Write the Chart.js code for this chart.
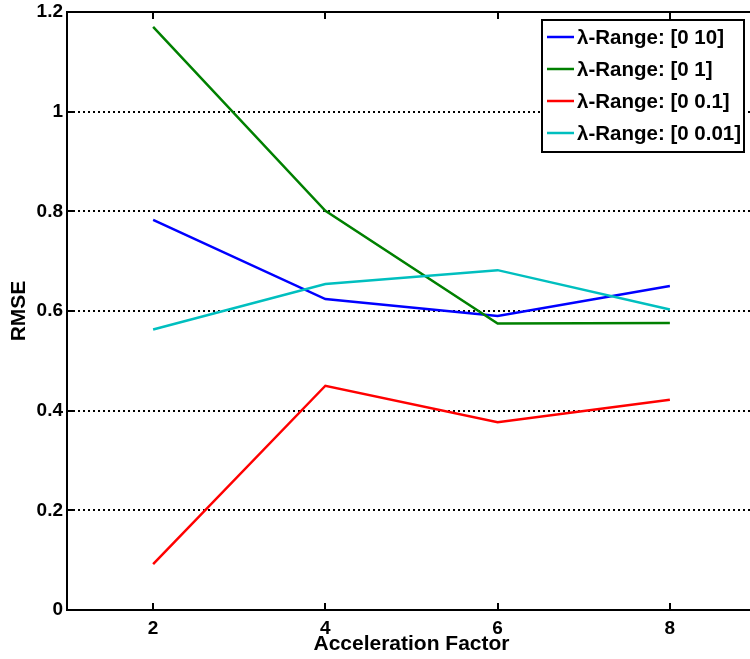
<!DOCTYPE html>
<html>
<head>
<meta charset="utf-8">
<script src="https://cdn.jsdelivr.net/npm/chart.js@4.4.1/dist/chart.umd.min.js"></script>
<style>
  html, body { margin:0; padding:0; background:#fff; overflow:hidden; }
  #wrap { width:760px; height:659px; }
</style>
</head>
<body>
<div id="wrap"><canvas id="rmseChart" width="760" height="659"></canvas></div>
<script>
// acceleration factors and RMSE per lambda range
const accelFactors = [2, 4, 6, 8];
const xTicks = [2, 4, 6, 8];
const rangeLabels = ['λ-Range: [0 10]', 'λ-Range: [0 1]', 'λ-Range: [0 0.1]', 'λ-Range: [0 0.01]'];
const rmseRange10 = [0.783, 0.624, 0.590, 0.650];
const rmseRange1 = [1.170, 0.801, 0.575, 0.576];
const rmseRange01 = [0.092, 0.450, 0.377, 0.422];
const rmseRange001 = [0.563, 0.654, 0.682, 0.603];
const lineColors = ['#0000ff', '#008000', '#ff0000', '#00bfbf'];

const FONT = '"Liberation Sans", Arial, Helvetica, sans-serif';
Chart.defaults.font.family = FONT;
Chart.defaults.font.weight = 'bold';
Chart.defaults.color = '#000';

const series = [rmseRange10, rmseRange1, rmseRange01, rmseRange001];
const datasets = series.map((vals, i) => ({
  label: rangeLabels[i],
  data: vals.map((v, j) => ({ x: accelFactors[j], y: v })),
  borderColor: lineColors[i],
  backgroundColor: lineColors[i],
  borderWidth: 2.5,
  pointRadius: 0,
  tension: 0,
  fill: false,
  order: series.length - i   // later series end up on top
}));

// box, mirrored ticks and the boxed legend
const matlabFrame = {
  id: 'matlabFrame',
  afterDraw(chart) {
    const ctx = chart.ctx;
    const a = chart.chartArea;
    const xs = chart.scales.x, ys = chart.scales.y;
    ctx.save();
    ctx.strokeStyle = '#000';
    ctx.lineWidth = 2;
    ctx.beginPath();
    ctx.moveTo(a.left - 1, a.top);
    ctx.lineTo(a.right + 1, a.top);
    ctx.stroke();
    const tl = 7;
    ctx.beginPath();
    xTicks.forEach(v => {
      const px = Math.round(xs.getPixelForValue(v));
      ctx.moveTo(px, a.bottom); ctx.lineTo(px, a.bottom - tl);
      ctx.moveTo(px, a.top); ctx.lineTo(px, a.top + tl);
    });
    ys.ticks.forEach(t => {
      const py = Math.round(ys.getPixelForValue(t.value));
      ctx.moveTo(a.left, py); ctx.lineTo(a.left + tl, py);
    });
    ctx.stroke();

    // legend
    const bx = 542, by = 20, bw = 202, bh = 132;
    ctx.fillStyle = '#fff';
    ctx.fillRect(bx, by, bw, bh);
    ctx.strokeRect(bx, by, bw, bh);
    ctx.font = 'bold 20.5px ' + FONT;
    ctx.textBaseline = 'middle';
    ctx.textAlign = 'left';
    chart.data.datasets.forEach((ds, i) => {
      const ry = 37 + i * 32;
      ctx.strokeStyle = ds.borderColor;
      ctx.lineWidth = 2.5;
      ctx.beginPath();
      ctx.moveTo(547, ry); ctx.lineTo(574, ry);
      ctx.stroke();
      ctx.fillStyle = '#000';
      ctx.fillText(ds.label, 577, ry + 1);
    });
    ctx.restore();
  }
};

new Chart(document.getElementById('rmseChart'), {
  type: 'line',
  data: { datasets },
  options: {
    responsive: false,
    animation: false,
    devicePixelRatio: 1,
    layout: { padding: { top: 12, right: 4, left: 0, bottom: 0 } },
    plugins: { legend: { display: false }, tooltip: { enabled: false } },
    scales: {
      x: {
        type: 'linear',
        min: 1, max: 9,
        afterBuildTicks: s => { s.ticks = xTicks.map(v => ({ value: v })); },
        afterFit: s => { s.height = 49; s.paddingLeft = 0; s.paddingRight = 0; },
        grid: { display: false, drawTicks: false },
        border: { color: '#000', width: 2 },
        ticks: { font: { size: 19, weight: 'bold' }, padding: 7, maxRotation: 0, callback: v => String(v) },
        title: { display: true, text: 'Acceleration Factor', font: { size: 21, weight: 'bold' }, padding: { top: 0, bottom: 2 } }
      },
      y: {
        min: 0, max: 1.2,
        afterFit: s => { s.width = 67; s.paddingTop = 0; s.paddingBottom = 0; },
        grid: {
          drawTicks: false,
          lineWidth: 2,
          color: c => (c.index === 0 || c.index === 6) ? 'rgba(0,0,0,0)' : '#000'
        },
        border: { color: '#000', width: 2, dash: [2, 3] },
        ticks: { stepSize: 0.2, font: { size: 19, weight: 'bold' }, padding: 4, callback: v => String(Number(v.toFixed(1))) },
        title: { display: true, text: 'RMSE', font: { size: 21, weight: 'bold' }, padding: { top: 7, bottom: 0 } }
      }
    }
  },
  plugins: [matlabFrame]
});
</script>
</body>
</html>
